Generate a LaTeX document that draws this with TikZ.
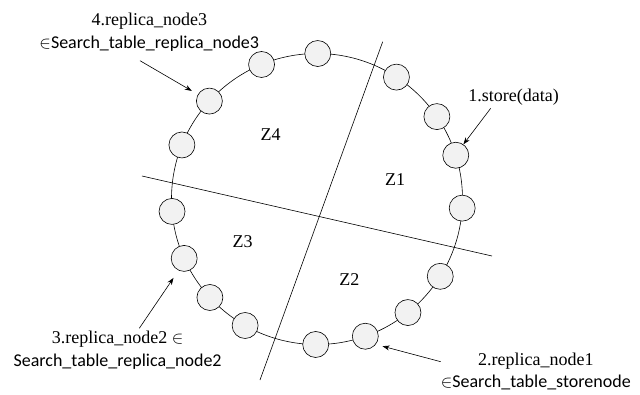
\documentclass[tikz,border=0pt]{standalone}
\usepackage{fontspec}
\setmainfont{Liberation Serif}
\newfontfamily\calfont{Carlito}
\usetikzlibrary{arrows.meta}

\begin{document}
\begin{tikzpicture}[x=1pt, y=1pt,
    font=\fontsize{18}{22.5}\selectfont,
    peer/.style={circle, draw, fill=black!5, minimum size=26pt,
                 inner sep=0pt, line width=0.6pt},
    cut/.style={line width=0.6pt},
    lbl/.style={align=center, inner sep=0pt},
    arr/.style={-{Stealth[length=7pt, width=5pt]}, line width=0.6pt}
  ]
  \useasboundingbox (-317,-195) rectangle (323,199);

  \draw[cut] (0,0) circle (145.5);
  \coordinate (a1) at (65.7,157.3);
  \coordinate (a2) at (-57,-181);
  \coordinate (b1) at (-175,23);
  \coordinate (b2) at (175,-57);
  \draw[cut] (a1) -- (a2);
  \draw[cut] (b1) -- (b2);

  \foreach \a [count=\i] in {89.7,112.4,137.7,158.2,184.9,204.1,222.6,240.4,
                             269.5,289.4,308.7,327.9,356.4,17.5,34.5,56.9}
    \node[peer] (n\i) at (\a:145.5) {};

  \node (z4) at (-46.3,64) {Z4};
  \node (z1) at (78,19) {Z1};
  \node (z3) at (-74.3,-42.7) {Z3};
  \node (z2) at (32.3,-81) {Z2};

  \node[lbl] (l4) at (-167.7,167)
    {4.replica\_node3\\$\in${\calfont Search\_table\_replica\_node3}};
  \node[lbl] (l1) at (196.7,102.3) {1.store(data)};
  \node[lbl] (l3) at (-199.4,-151.3)
    {3.replica\_node2 $\in$\\{\calfont Search\_table\_replica\_node2}};
  \node[lbl] (l2) at (218.8,-172.3)
    {2.replica\_node1\\$\in${\calfont Search\_table\_storenode}};

  \coordinate (t4) at (-177,138.3);
  \coordinate (t1) at (173.7,90.7);
  \coordinate (t3) at (-177.7,-129.3);
  \coordinate (t2) at (123.7,-162.7);
  \draw[arr, shorten >=7pt] (t4) -- (n3.150);
  \draw[arr] (t1) -- (n14.55);
  \draw[arr, shorten >=9pt] (t3) -- (n6.245);
  \draw[arr, shorten >=7pt] (t2) -- (n10.-38);
\end{tikzpicture}
\end{document}
